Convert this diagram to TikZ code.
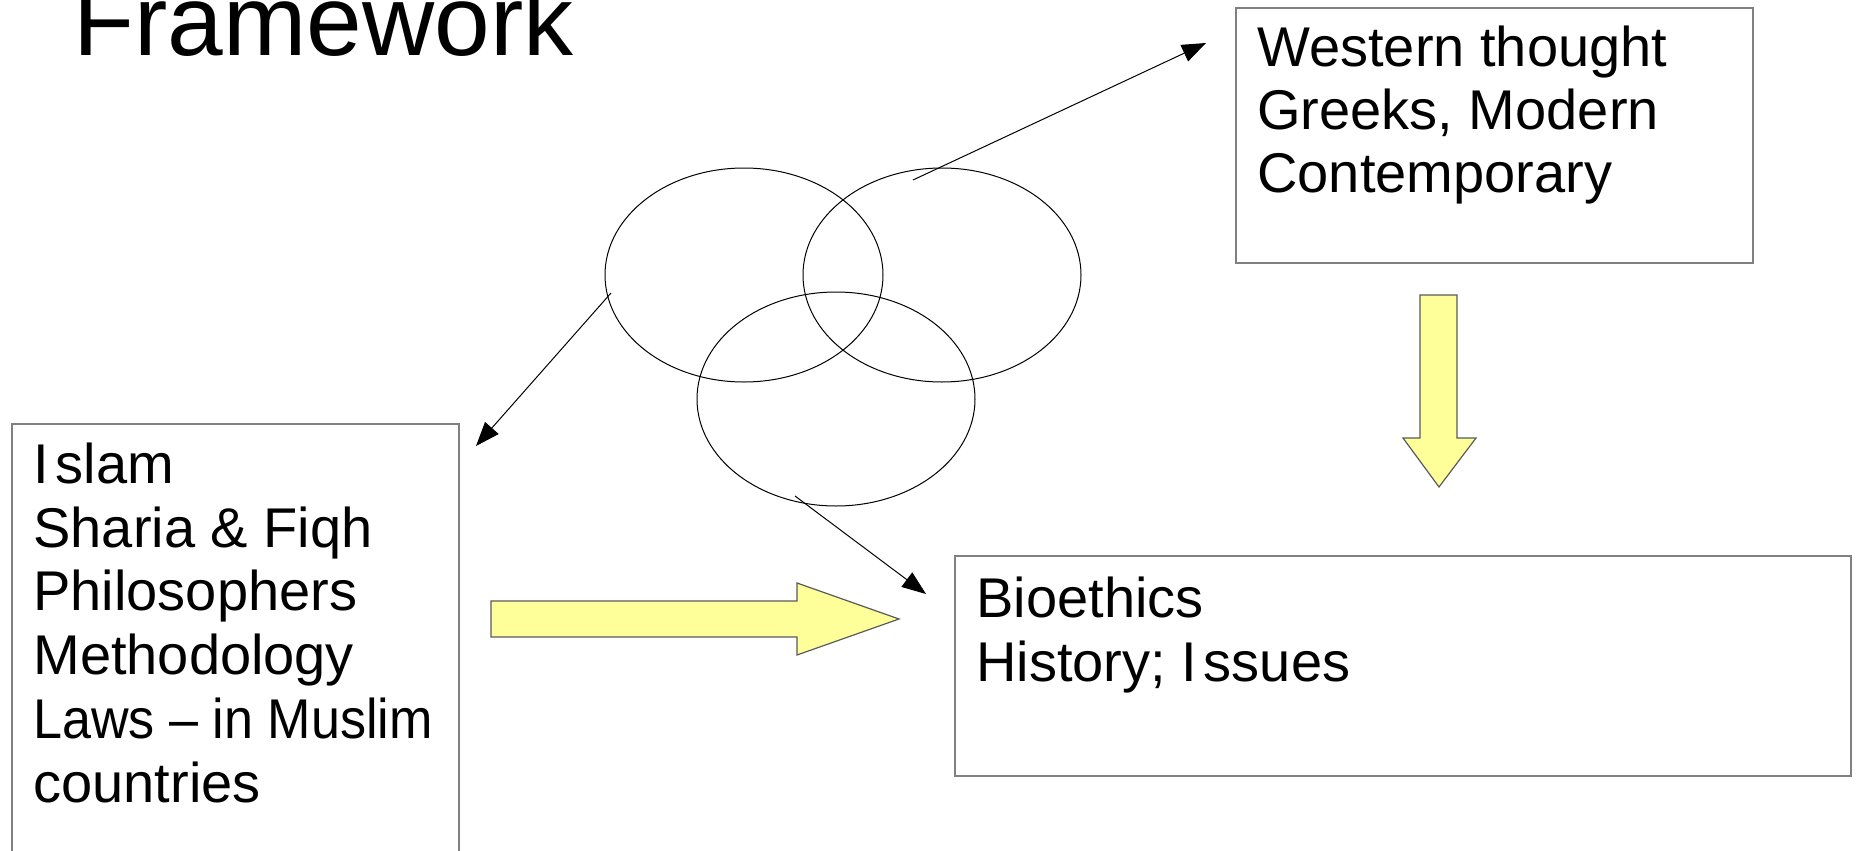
\documentclass[tikz,border=0pt]{standalone}
\usepackage{fontspec}
\setmainfont{Liberation Sans}
\usetikzlibrary{arrows.meta,shapes.geometric}
\definecolor{boxgray}{HTML}{808080}
\definecolor{arrowfill}{HTML}{FFFF99}
\definecolor{arrowline}{HTML}{5A5A5A}
\tikzset{
  px/.style={x=0.5pt,y=-0.5pt},
  framebox/.style={draw=boxgray,line width=0.8pt,rectangle,inner sep=0pt,anchor=north west},
  txt/.style={anchor=base west,inner sep=0pt,font=\fontsize{28}{31}\selectfont},
  ring/.style={draw=black,line width=0.5pt,ellipse,inner sep=0pt,minimum width=139pt,minimum height=107pt},
  link/.style={draw=black,line width=0.5pt,-{Triangle[length=12pt,width=9pt]}},
  bigarrow/.style={fill=arrowfill,draw=arrowline,line width=0.6pt,line join=miter}
}
\begin{document}
\begin{tikzpicture}[px]
\useasboundingbox (0,0) rectangle (1860,851);
\fill[white] (0,0) rectangle (1860,851);
% title
\node[anchor=base west,inner sep=0pt,font=\fontsize{50}{60}\selectfont] (title) at (73,55) {Framework};
% ellipses
\node[ring] (e1) at (744,275) {};
\node[ring] (e2) at (942,275) {};
\node[ring] (e3) at (836,399) {};
% boxes
\node[framebox,minimum width=258.5pt,minimum height=127.5pt] (west) at (1235,7) {};
\node[framebox,minimum width=448pt,minimum height=110pt] (bio) at (954,555) {};
\node[framebox,minimum width=223.5pt,minimum height=230pt] (islam) at (11,423) {};
% texts
\node[txt] (w1) at (1257,67) {Western thought};
\node[txt] (w2) at (1257,129) {Greeks, Modern};
\node[txt] (w3) at (1257,192) {Contemporary};
\node[txt] (b1) at (976,617) {Bioethics};
\node[txt] (b2) at (976,681) {History; I\kern0.12em ssues};
\node[txt] (i1) at (33,483) {I\kern0.12em slam};
\node[txt] (i2) at (33,547) {Sharia \& Fiqh};
\node[txt] (i3) at (33,610) {Philosophers};
\node[txt] (i4) at (33,674) {Methodology};
\node[txt] (i5) at (33,738) {\scalebox{0.93}[1]{Laws – in Muslim}};
\node[txt] (i6) at (33,802) {countries};
% connector ends
\coordinate (s1) at (913,180);
\coordinate (t1) at (1206,43);
\coordinate (s2) at (611,293);
\coordinate (t2) at (476,446);
\coordinate (s3) at (795,496);
\coordinate (t3) at (926,594);
\draw[link] (s1) -- (t1);
\draw[link] (s2) -- (t2);
\draw[link] (s3) -- (t3);
% yellow block arrows
\draw[bigarrow] (491,601) -- (797,601) -- (797,583) -- (899,619) -- (797,655) -- (797,637) -- (491,637) -- cycle;
\draw[bigarrow] (1420,295) -- (1457,295) -- (1457,438) -- (1476,438) -- (1439,487) -- (1403,438) -- (1420,438) -- cycle;
\end{tikzpicture}
\end{document}
